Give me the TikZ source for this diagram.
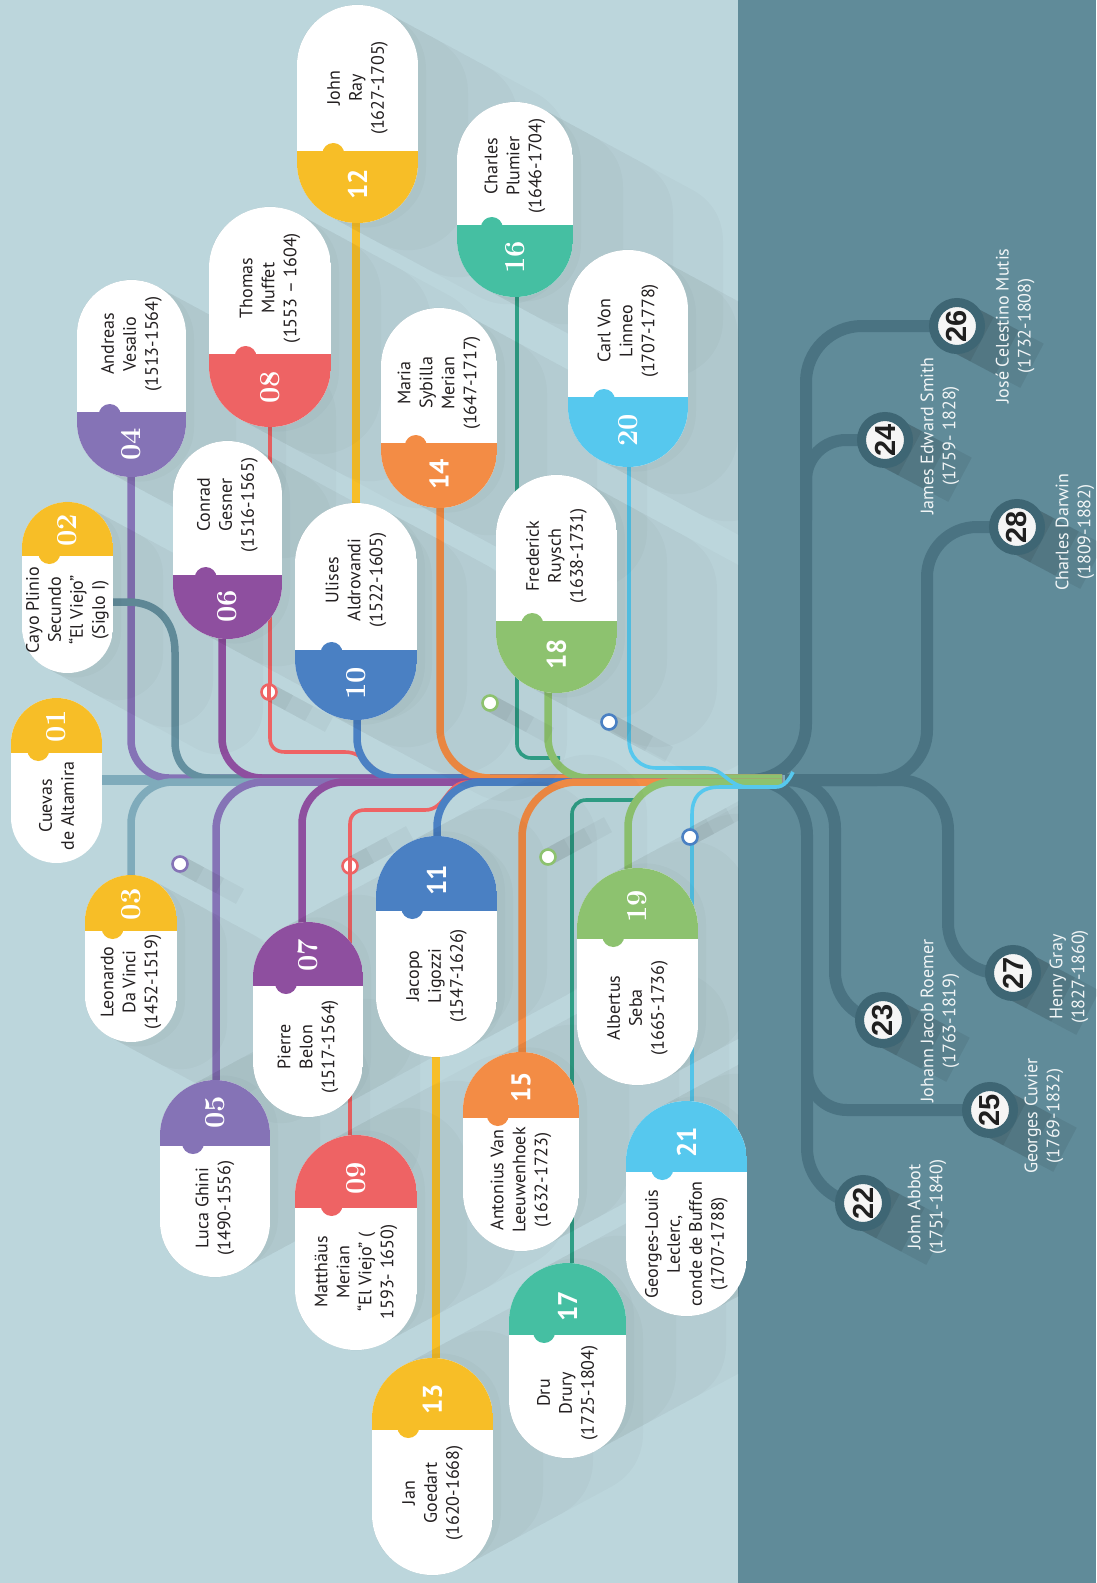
\documentclass[tikz,border=0pt]{standalone}
\usepackage{fontspec}
\newfontfamily\ptsans{PT Sans}
\newfontfamily\heavysans{Liberation Sans}
\definecolor{bgl}{HTML}{BCD6DC}
\definecolor{bgd}{HTML}{608B99}
\definecolor{dkl}{HTML}{4A7382}
\definecolor{dkring}{HTML}{3E6674}
\definecolor{cyel}{HTML}{F7BE27}
\definecolor{cpurl}{HTML}{8573B6}
\definecolor{cpurd}{HTML}{8E4F9F}
\definecolor{cred}{HTML}{EE6364}
\definecolor{cblue}{HTML}{4A80C3}
\definecolor{corg}{HTML}{F38C45}
\definecolor{cteal}{HTML}{45BFA2}
\definecolor{ctealln}{HTML}{2F9F86}
\definecolor{cgrn}{HTML}{8DC26F}
\definecolor{clbl}{HTML}{56C8EE}
\definecolor{csteel}{HTML}{7FABBB}
\definecolor{csteeld}{HTML}{6490A0}
\definecolor{ctxt}{HTML}{231F20}

\newcommand{\pillshape}[7]{%
 \pgfmathsetmacro\pr{(#2-#1)/2-0.01}%
 \pgfmathsetmacro\bx{#1+0.3*(#2-#1)}%
 \begin{scope}
  \clip[rounded corners=\pr pt] (#1,#3) rectangle (#2,#4);
  \fill[white] (#1,#3) rectangle (#2,#4);
  \ifnum#7=0\relax
   \fill[#6] (#1,#5) rectangle (#2,#4);
  \else
   \fill[#6] (#1,#3) rectangle (#2,#5);
  \fi
 \end{scope}
 \ifnum#7=0\relax
  \fill[#6] (\bx,#5+3) circle[radius=11pt];
 \else
  \fill[#6] (\bx,#5-3) circle[radius=11pt];
 \fi
}
\newcommand{\pillshadow}[5]{%
 \pgfmathsetmacro\pr{(#2-#1)/2}%
 \pgfmathsetmacro\pw{#2-#1}%
 \pgfmathsetmacro\pcx{(#1+#2)/2}%
 \pgfmathsetmacro\ph{#4-#3-#2+#1}%
 \foreach \shlen in {8,50,100,150}{%
  \begin{scope}[transparency group, opacity=0.02]
   \filldraw[black, line width=\pw pt, line join=round] (\pcx,#3+\pr) -- (\pcx,#4-\pr) -- ++(\shlen,#5*\shlen*0.54) -- ++(0,-\ph) -- cycle;
  \end{scope}
 }%
}
\newcommand{\dotshadow}[3]{%
 \foreach \shlen in {20,40,60}{%
  \begin{scope}[transparency group, opacity=0.035]
   \draw[black, line width=17pt] (#1,#2) -- ++(\shlen,#3*\shlen*0.54);
  \end{scope}
 }%
}

\tikzset{
 ln/.style={line width=7.5pt},
 thinln/.style={line width=3.6pt},
 dk/.style={draw=dkl, line width=12pt},
 ptxt/.style={font=\ptsans\fontsize{18}{22}\selectfont, text=ctxt, align=center, rotate=90, inner sep=0pt},
 pnum/.style={font=\bfseries\fontsize{29}{30}\selectfont, text=white, rotate=90, inner sep=0pt},
 pnumb/.style={font=\ptsans\bfseries\fontsize{27}{28}\selectfont, text=white, rotate=90, inner sep=0pt},
 dtxt/.style={font=\ptsans\fontsize{18}{22}\selectfont, text=white!92!bgd, align=center, rotate=90, inner sep=0pt},
 dcirc/.style={circle, fill=white!96!black, draw=dkring, line width=9pt, minimum size=47pt, inner sep=0pt,
   font=\heavysans\bfseries\fontsize{29}{30}\selectfont, text=black!88, rotate=90},
 deco/.style={circle, fill=white, draw=#1, line width=2.6pt, minimum size=15pt, inner sep=0pt},
}

\begin{document}
\begin{tikzpicture}[x=1pt,y=-1pt]
\useasboundingbox (0,0) rectangle (1096,1583);
\fill[bgl] (0,0) rectangle (738,1583);
\fill[bgd] (738,0) rectangle (1096,1583);

% ---------- dark panel ----------
\coordinate (c22) at (863,1203);
\coordinate (c23) at (883,1020);
\coordinate (c24) at (885,440);
\coordinate (c25) at (990,1110);
\coordinate (c26) at (957,326);
\coordinate (c27) at (1013,973);
\coordinate (c28) at (1017,527);
\coordinate (ds) at (738,780);

\foreach \shlen in {25,50,75}{
 \begin{scope}[transparency group, opacity=0.07]
  \foreach \p in {c22,c23,c24,c25,c26,c27,c28}
   \draw[black, line width=50pt] (\p) -- ++(\shlen,\shlen*0.53);
 \end{scope}
}

\draw[dk, rounded corners=56pt] (ds) -| (806,326) -- (c26);
\draw[dk, rounded corners=40pt] (806,520) |- (c24);
\draw[dk, rounded corners=50pt] (ds) -| (927,527) -- (c28);
\draw[dk, rounded corners=50pt] (ds) -| (948,973) -- (c27);
\draw[dk, rounded corners=48pt] (ds) -| (835,1020) -- (c23);
\draw[dk, rounded corners=55pt] (ds) -| (807,1203) -- (c22);
\draw[dk, rounded corners=40pt] (807,1060) |- (c25);

% ---------- stems ----------
\coordinate (e1) at (782,778);
\coordinate (e2) at (782,782);
\coordinate (s01) at (100,780);
\coordinate (s02) at (110,602);
\coordinate (s03) at (131,885);
\coordinate (s04) at (131,470);
\coordinate (s05) at (216,1090);
\coordinate (s06) at (222,630);
\coordinate (s07) at (302,932);
\coordinate (s08) at (270,420);
\coordinate (s09) at (350,1145);
\coordinate (s10) at (357,712);
\coordinate (s11) at (437,846);
\coordinate (s12) at (356,215);
\coordinate (s12b) at (356,512);
\coordinate (s13a) at (436,1048);
\coordinate (s13) at (436,1368);
\coordinate (s14) at (440,500);
\coordinate (s15) at (522,1062);
\coordinate (s16) at (517,290);
\coordinate (s17) at (572,1272);
\coordinate (s18) at (548,686);
\coordinate (s19) at (628,878);
\coordinate (s20) at (629,460);
\coordinate (s21) at (692,1110);

% spine
\draw[line width=10pt, csteel] (s01) -- (785,780);
% upper lines
\draw[ln, cpurl, rounded corners=38pt] (s04) |- (e1);
\draw[ln, csteeld] (s02) -- (128,602) .. controls (158,602) and (175,622) .. (175,652) -- (175,742) .. controls (175,762) and (187,778) .. (210,778) -- (e1);
\draw[ln, cpurd, rounded corners=40pt] (s06) |- (e1);
\draw[thinln, cred] (s08) -- (270,738) .. controls (270,747) and (276,752) .. (285,752) -- (345,752) .. controls (368,752) and (372,778) .. (395,778) -- (e1);
\draw[ln, cblue, rounded corners=40pt] (s10) |- (e1);
\draw[ln, corg, rounded corners=50pt] (s14) |- (e1);
\draw[thinln, ctealln, rounded corners=14pt] (s16) |- (560,758);
\draw[ln, cgrn, rounded corners=40pt] (s18) |- (e1);
% lower lines
\draw[ln, csteel, rounded corners=42pt] (s03) |- (e2);
\draw[ln, cpurl, rounded corners=48pt] (s05) |- (e2);
\draw[ln, cpurd, rounded corners=42pt] (s07) |- (e2);
\draw[thinln, cred] (s09) -- (350,824) .. controls (350,815) and (356,810) .. (365,810) -- (425,810) .. controls (446,810) and (446,782) .. (468,782) -- (e2);
\draw[ln, cblue, rounded corners=45pt] (s11) |- (e2);
\draw[ln, corg, rounded corners=55pt] (s15) |- (e2);
\draw[thinln, ctealln, rounded corners=14pt] (s17) |- (636,800);
\draw[ln, cgrn, rounded corners=45pt] (s19) |- (e2);
% light blue
\draw[thinln, clbl] (s20) -- (629,740) .. controls (629,757) and (640,768) .. (657,768) -- (705,768) .. controls (724,768) and (728,787) .. (748,787) -- (776,787) .. controls (784,787) and (789,780) .. (793,772);
\draw[thinln, clbl] (s21) -- (692,815) .. controls (692,797) and (700,787) .. (720,787) -- (760,787);
% yellow
\draw[ln, cyel] (s12) -- (s12b);
\draw[ln, cyel] (s13a) -- (s13);

% ---------- long shadows ----------
\begin{scope}
\clip (0,0) rectangle (738,1583);
 \pillshadow{22}{113}{502}{673}{1}
 \pillshadow{85}{177}{875}{1042}{1}
 \pillshadow{77}{186}{280}{477}{1}
 \pillshadow{160}{270}{1080}{1277}{-1}
 \pillshadow{173}{282}{441}{639}{1}
 \pillshadow{253}{363}{922}{1117}{-1}
 \pillshadow{209}{331}{207}{427}{1}
 \pillshadow{295}{417}{1135}{1350}{-1}
 \pillshadow{295}{417}{503}{720}{1}
 \pillshadow{376}{497}{836}{1057}{-1}
 \pillshadow{297}{418}{5}{223}{1}
 \pillshadow{372}{493}{1358}{1575}{-1}
 \pillshadow{381}{497}{308}{508}{1}
 \pillshadow{463}{579}{1052}{1251}{-1}
 \pillshadow{457}{573}{102}{297}{1}
 \pillshadow{509}{626}{1263}{1458}{-1}
 \pillshadow{496}{617}{475}{693}{1}
 \pillshadow{577}{698}{868}{1085}{-1}
 \pillshadow{568}{688}{250}{467}{1}
 \pillshadow{626}{747}{1101}{1316}{-1}
 \dotshadow{180}{864}{1}
 \dotshadow{269}{692}{1}
 \dotshadow{490}{703}{1}
 \dotshadow{609}{722}{1}
 \dotshadow{350}{866}{-1}
 \dotshadow{548}{857}{-1}
 \dotshadow{690}{837}{-1}
\end{scope}

% ---------- pills ----------
\pillshape{11}{102}{698}{863}{753}{cyel}{1}
\pillshape{22}{113}{502}{673}{556}{cyel}{1}
\pillshape{85}{177}{875}{1042}{931}{cyel}{1}
\pillshape{77}{186}{280}{477}{412}{cpurl}{0}
\pillshape{160}{270}{1080}{1277}{1146}{cpurl}{1}
\pillshape{173}{282}{441}{639}{575}{cpurd}{0}
\pillshape{253}{363}{922}{1117}{986}{cpurd}{1}
\pillshape{209}{331}{207}{427}{354}{cred}{0}
\pillshape{295}{417}{1135}{1350}{1208}{cred}{1}
\pillshape{295}{417}{503}{720}{650}{cblue}{0}
\pillshape{376}{497}{836}{1057}{911}{cblue}{1}
\pillshape{297}{418}{5}{223}{151}{cyel}{0}
\pillshape{372}{493}{1358}{1575}{1430}{cyel}{1}
\pillshape{381}{497}{308}{508}{443}{corg}{0}
\pillshape{463}{579}{1052}{1251}{1118}{corg}{1}
\pillshape{457}{573}{102}{297}{225}{cteal}{0}
\pillshape{509}{626}{1263}{1458}{1335}{cteal}{1}
\pillshape{496}{617}{475}{693}{621}{cgrn}{0}
\pillshape{577}{698}{868}{1085}{939}{cgrn}{1}
\pillshape{568}{688}{250}{467}{397}{clbl}{0}
\pillshape{626}{747}{1101}{1316}{1172}{clbl}{1}

% numbers
\node[pnum] (n01) at (56.5,726) {01};
\node[pnum] (n02) at (67.5,530) {02};
\node[pnum] (n03) at (131,904) {03};
\node[pnum] (n04) at (131.5,444) {04};
\node[pnum] (n05) at (215,1112) {05};
\node[pnum] (n06) at (227.5,606) {06};
\node[pnum] (n07) at (308,955) {07};
\node[pnum] (n08) at (270,387) {08};
\node[pnum] (n09) at (356,1178) {09};
\node[pnum] (n10) at (356,683) {10};
\node[pnumb] (n11) at (436.5,880) {11};
\node[pnumb] (n12) at (357.5,184) {12};
\node[pnumb] (n13) at (432.5,1399) {13};
\node[pnumb] (n14) at (439,474) {14};
\node[pnumb] (n15) at (521,1087) {15};
\node[pnum] (n16) at (515,257) {16};
\node[pnumb] (n17) at (567.5,1306) {17};
\node[pnumb] (n18) at (556.5,654) {18};
\node[pnum] (n19) at (637.5,906) {19};
\node[pnum] (n20) at (628,430) {20};
\node[pnumb] (n21) at (686.5,1142) {21};

% texts
\node[ptxt] (t01) at (56.5,806) {Cuevas\\de Altamira};
\node[ptxt] (t02) at (67.5,610) {Cayo Plinio\\Secundo\\“El Viejo”\\(Siglo I)};
\node[ptxt] (t03) at (131,982) {Leonardo\\Da Vinci\\(1452-1519)};
\node[ptxt] (t04) at (131.5,344) {Andreas\\Vesalio\\(1513-1564)};
\node[ptxt] (t05) at (215,1208) {Luca Ghini\\(1490-1556)};
\node[ptxt] (t06) at (227.5,505) {Conrad\\Gesner\\(1516-1565)};
\node[ptxt] (t07) at (308,1047) {Pierre\\Belon\\(1517-1564)};
\node[ptxt] (t08) at (270,288) {Thomas\\Muffet\\(1553 – 1604)};
\node[ptxt] (t09) at (356,1272) {Matthäus\\Merian\\“El Viejo” (\\1593- 1650)};
\node[ptxt] (t10) at (356,580) {Ulises\\Aldrovandi\\(1522-1605)};
\node[ptxt] (t11) at (436.5,976) {Jacopo\\Ligozzi\\(1547-1626)};
\node[ptxt] (t12) at (357.5,88) {John\\Ray\\(1627-1705)};
\node[ptxt] (t13) at (432.5,1493) {Jan\\Goedart\\(1620-1668)};
\node[ptxt] (t14) at (439,383) {Maria\\Sybilla\\Merian\\(1647-1717)};
\node[ptxt] (t15) at (521,1180) {Antonius Van\\Leeuwenhoek\\(1632-1723)};
\node[ptxt] (t16) at (515,166) {Charles\\Plumier\\(1646-1704)};
\node[ptxt] (t17) at (567.5,1393) {Dru\\Drury\\(1725-1804)};
\node[ptxt] (t18) at (556.5,556) {Frederick\\Ruysch\\(1638-1731)};
\node[ptxt] (t19) at (637.5,1008) {Albertus\\Seba\\(1665-1736)};
\node[ptxt] (t20) at (628,331) {Carl Von\\Linneo\\(1707-1778)};
\node[ptxt] (t21) at (686.5,1244) {Georges-Louis\\Leclerc,\\conde de Buffon\\(1707-1788)};

% decorative dots
\node[deco=cpurl] (d1) at (180,864) {};
\node[deco=cred] (d2) at (269,692) {};
\draw[thinln, cred] (269,684) -- (269,700);
\node[deco=cred] (d3) at (350,866) {};
\draw[thinln, cred] (350,858) -- (350,874);
\node[deco=cgrn] (d4) at (490,703) {};
\node[deco=cblue] (d5) at (609,722) {};
\node[deco=cgrn] (d6) at (548,857) {};
\node[deco=cblue] (d7) at (690,837) {};

% dark circles
\node[dcirc] (n22) at (c22) {22};
\node[dcirc] (n23) at (c23) {23};
\node[dcirc] (n24) at (c24) {24};
\node[dcirc] (n25) at (c25) {25};
\node[dcirc] (n26) at (c26) {26};
\node[dcirc] (n27) at (c27) {27};
\node[dcirc] (n28) at (c28) {28};

\node[dtxt] (l22) at (927,1207) {John Abbot\\(1751-1840)};
\node[dtxt] (l23) at (940,1021) {Johann Jacob Roemer\\(1763-1819)};
\node[dtxt] (l24) at (940,436) {James Edward Smith\\(1759- 1828)};
\node[dtxt] (l25) at (1044,1116) {Georges Cuvier\\(1769-1832)};
\node[dtxt] (l26) at (1015,326) {José Celestino Mutis\\(1732-1808)};
\node[dtxt] (l27) at (1069,977) {Henry Gray\\(1827-1860)};
\node[dtxt] (l28) at (1075,532) {Charles Darwin\\(1809-1882)};
\end{tikzpicture}
\end{document}
